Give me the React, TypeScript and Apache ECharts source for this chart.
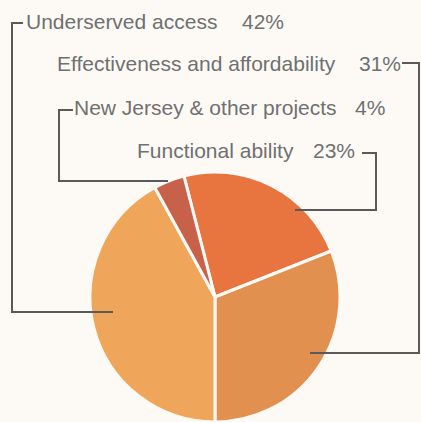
import React, { useEffect, useRef } from "react";
import * as echarts from "echarts";

const categories = [
  "Functional ability",
  "Effectiveness and affordability",
  "Underserved access",
  "New Jersey & other projects",
];
const values = [23, 31, 42, 4];
const colors = ["#E8743F", "#E2904F", "#F0A65A", "#C8614A"];

// layout of annotation labels & leader lines (not data)
const labelLayout = [
  { tx: 137, px: 313, y: 150, line: [[362, 153], [376, 153], [376, 210], [295, 210]] },
  { tx: 57, px: 359, y: 63, line: [[402, 63], [419, 63], [419, 353], [310, 353]] },
  { tx: 26, px: 242, y: 21, line: [[23, 23], [12, 23], [12, 312], [113, 312]] },
  { tx: 74, px: 355, y: 107, line: [[73, 110], [59, 110], [59, 181], [168, 181]] },
];

export default function App() {
  const ref = useRef<HTMLDivElement>(null);
  useEffect(() => {
    document.body.style.margin = "0";
    if (!ref.current) return;
    const chart = echarts.init(ref.current, null, { renderer: "svg" });
    const textStyle = {
      fill: "#707070",
      font: '21px "Liberation Sans", Arial, sans-serif',
      verticalAlign: "middle",
      align: "left",
    };
    const graphics: any[] = [];
    categories.forEach((c, i) => {
      const l = labelLayout[i];
      graphics.push({
        type: "text",
        x: l.tx,
        y: l.y,
        style: { ...textStyle, text: c },
      });
      graphics.push({
        type: "text",
        x: l.px,
        y: l.y,
        style: { ...textStyle, text: values[i] + "%" },
      });
      graphics.push({
        type: "polyline",
        shape: { points: l.line },
        style: { stroke: "#5a5a5a", lineWidth: 2, fill: "none" },
        z: 10,
      });
    });
    chart.setOption({
      animation: false,
      backgroundColor: "#FDFAF6",
      series: [
        {
          type: "pie",
          center: [215, 297],
          radius: 125,
          startAngle: 104.4,
          clockwise: true,
          label: { show: false },
          labelLine: { show: false },
          emphasis: { disabled: true },
          itemStyle: { borderColor: "#FDFAF6", borderWidth: 3 },
          data: categories.map((c, i) => ({
            name: c,
            value: values[i],
            itemStyle: { color: colors[i] },
          })),
        },
      ],
      graphic: graphics,
    });
    return () => chart.dispose();
  }, []);
  return <div ref={ref} style={{ width: 421, height: 422 }} />;
}
